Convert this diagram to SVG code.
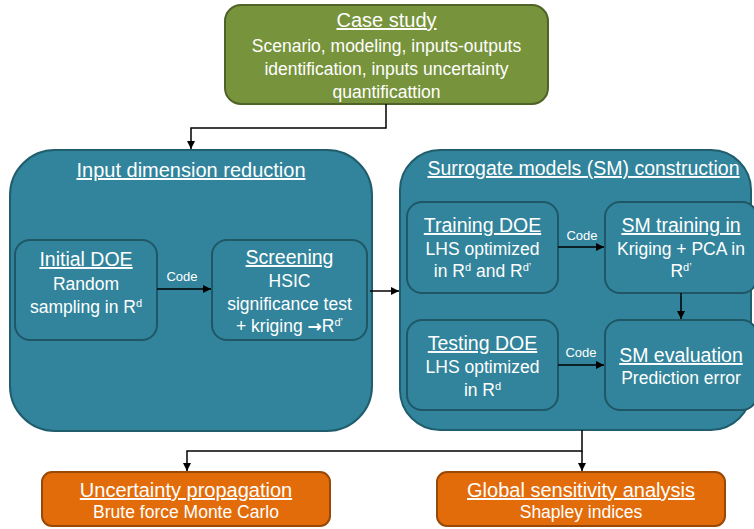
<svg xmlns="http://www.w3.org/2000/svg" width="754" height="529" viewBox="0 0 754 529">
<style>
text { font-family: "Liberation Sans", Arial, sans-serif; fill: #ffffff; text-anchor: middle; }
.t { font-size: 20px; text-decoration: underline; }
.t2 { font-size: 19.5px; text-decoration: underline; }
.it { font-size: 19.5px; text-decoration: underline; }
.b { font-size: 17.5px; }
.c { font-size: 13px; }
.sup { font-size: 11px; }
.arr { font-family: "DejaVu Sans", sans-serif; font-size: 17px; font-weight: bold; }
.green { fill: #77933C; stroke: #4F6228; stroke-width: 2; }
.teal { fill: #31849B; stroke: #215E6D; stroke-width: 2; }
.inner { fill: #31849B; stroke: #1F5766; stroke-width: 2; }
.orange { fill: #E36C0A; stroke: #984807; stroke-width: 2; }
.conn { fill: none; stroke: #000000; stroke-width: 1.5; }
</style>
<defs>
<marker id="ah" markerUnits="userSpaceOnUse" markerWidth="9" markerHeight="9" refX="8" refY="4" orient="auto">
<path d="M0,0 L8,4 L0,8 z" fill="#000000"/>
</marker>
</defs>

<g id="case-study">
<rect class="green" x="225" y="5" width="323" height="99" rx="16"/>
<text class="t" x="386.5" y="27">Case study</text>
<text class="b" x="386.5" y="52">Scenario, modeling, inputs-outputs</text>
<text class="b" x="386.5" y="75">identification, inputs uncertainty</text>
<text class="b" x="386.5" y="98">quantificattion</text>
</g>

<g id="input-dimension-reduction">
<rect class="teal" x="10" y="150" width="362" height="281" rx="45"/>
<text class="t" x="191" y="177">Input dimension reduction</text>
</g>

<g id="initial-doe">
<rect class="inner" x="15" y="240" width="142" height="100" rx="15"/>
<text class="it" x="86" y="266">Initial DOE</text>
<text class="b" x="86" y="290">Random</text>
<text class="b" x="86" y="313">sampling in R<tspan class="sup" baseline-shift="super">d</tspan></text>
</g>

<g id="screening">
<rect class="inner" x="212" y="240" width="155" height="100" rx="15"/>
<text class="it" x="289.5" y="264">Screening</text>
<text class="b" x="289.5" y="287">HSIC</text>
<text class="b" x="289.5" y="310">significance test</text>
<text class="b" x="289.5" y="332">+ kriging <tspan class="arr">→</tspan>R<tspan class="sup" baseline-shift="super">d’</tspan></text>
</g>

<g id="surrogate-models">
<rect class="teal" x="400" y="150" width="351" height="280" rx="40"/>
<text class="t2" x="583.5" y="175">Surrogate models (SM) construction</text>
</g>

<g id="training-doe">
<rect class="inner" x="407" y="202" width="151" height="91" rx="15"/>
<text class="it" x="482.5" y="232">Training DOE</text>
<text class="b" x="482.5" y="255">LHS optimized</text>
<text class="b" x="482.5" y="277">in R<tspan class="sup" baseline-shift="super">d</tspan> and R<tspan class="sup" baseline-shift="super">d’</tspan></text>
</g>

<g id="sm-training">
<rect class="inner" x="605" y="202" width="152" height="91" rx="15"/>
<text class="it" x="681" y="232">SM training in</text>
<text class="b" x="681" y="255">Kriging + PCA in</text>
<text class="b" x="681" y="277">R<tspan class="sup" baseline-shift="super">d’</tspan></text>
</g>

<g id="testing-doe">
<rect class="inner" x="407" y="320" width="151" height="90" rx="15"/>
<text class="it" x="482.5" y="350">Testing DOE</text>
<text class="b" x="482.5" y="373">LHS optimized</text>
<text class="b" x="482.5" y="396">in R<tspan class="sup" baseline-shift="super">d</tspan></text>
</g>

<g id="sm-evaluation">
<rect class="inner" x="605" y="320" width="152" height="90" rx="15"/>
<text class="it" x="681" y="362">SM evaluation</text>
<text class="b" x="681" y="384">Prediction error</text>
</g>

<g id="uncertainty-propagation">
<rect class="orange" x="42" y="472" width="288" height="54" rx="10"/>
<text class="t" x="186" y="497">Uncertainty propagation</text>
<text class="b" x="186" y="518">Brute force Monte Carlo</text>
</g>

<g id="global-sensitivity">
<rect class="orange" x="437" y="472" width="288" height="54" rx="10"/>
<text class="t" x="581" y="497">Global sensitivity analysis</text>
<text class="b" x="581" y="518">Shapley indices</text>
</g>

<g id="connectors">
<polyline class="conn" points="386,104 386,128 191,128 191,149" marker-end="url(#ah)"/>
<line class="conn" x1="157" y1="289" x2="211" y2="289" marker-end="url(#ah)"/>
<text class="c" x="182" y="281">Code</text>
<line class="conn" x1="370" y1="291" x2="399" y2="291" marker-end="url(#ah)"/>
<line class="conn" x1="558" y1="247" x2="604" y2="247" marker-end="url(#ah)"/>
<text class="c" x="582" y="240">Code</text>
<line class="conn" x1="681" y1="293" x2="681" y2="319" marker-end="url(#ah)"/>
<line class="conn" x1="558" y1="365" x2="604" y2="365" marker-end="url(#ah)"/>
<text class="c" x="581" y="357">Code</text>
<polyline class="conn" points="582,430 582,451 187,451 187,471" marker-end="url(#ah)"/>
<line class="conn" x1="582" y1="451" x2="582" y2="471" marker-end="url(#ah)"/>
</g>
</svg>
